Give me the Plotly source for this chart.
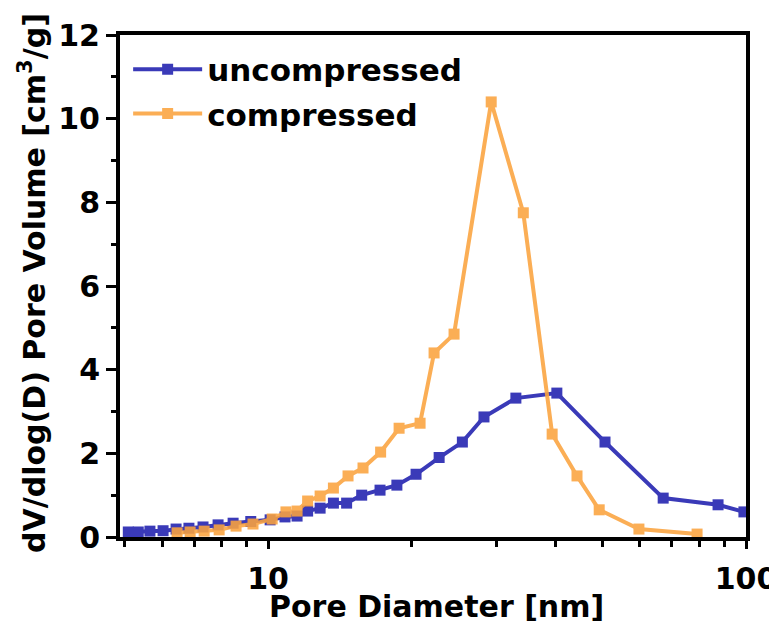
import plotly.graph_objects as go
import math

# Uncompressed
unc_d = [5.10, 5.35, 5.66, 6.03, 6.42, 6.83, 7.31, 7.86, 8.45, 9.2, 10.1, 10.85, 11.5, 12.1, 12.85,
         13.7, 14.6, 15.7, 17.15, 18.6, 20.4, 22.8, 25.5, 28.3, 33.0, 40.2, 50.7, 67.1, 87.4, 99.0]
unc_v = [0.12, 0.12, 0.14, 0.15, 0.19, 0.21, 0.24, 0.29, 0.33, 0.37, 0.41, 0.48, 0.50, 0.62, 0.69,
         0.81, 0.81, 1.00, 1.12, 1.24, 1.50, 1.90, 2.27, 2.87, 3.32, 3.44, 2.27, 0.93, 0.77, 0.60]

# Compressed
com_d = [6.45, 6.87, 7.35, 7.9, 8.57, 9.3, 10.2, 10.9, 11.5, 12.1, 12.85, 13.7, 14.7, 15.8, 17.2,
         18.8, 20.8, 22.25, 24.5, 29.3, 34.2, 39.3, 44.3, 49.3, 59.7, 79.0]
com_v = [0.10, 0.12, 0.14, 0.17, 0.26, 0.31, 0.43, 0.60, 0.62, 0.86, 0.98, 1.17, 1.46, 1.65, 2.03,
         2.60, 2.72, 4.40, 4.85, 10.40, 7.75, 2.46, 1.46, 0.65, 0.19, 0.07]

x_major = [10, 100]
x_major_labels = ["10", "100"]
x_minor = [5, 6, 7, 8, 9, 20, 30, 40, 50, 60, 70, 80, 90]
y_major = [0, 2, 4, 6, 8, 10, 12]
y_minor = [1, 3, 5, 7, 9, 11]

BLUE = "#3A3AB8"
ORANGE = "#FBA33E"
FONT = "DejaVu Sans, Arial, sans-serif"

fig = go.Figure()
fig.add_trace(go.Scatter(x=unc_d, y=unc_v, name="uncompressed", mode="lines+markers",
                         legendgroup="a",
                         line=dict(color=BLUE, width=4),
                         marker=dict(symbol="square", size=11, color=BLUE)))
fig.add_trace(go.Scatter(x=com_d, y=com_v, name="compressed", mode="lines+markers",
                         legendgroup="b",
                         line=dict(color=ORANGE, width=4),
                         marker=dict(symbol="square", size=11, color=ORANGE),
                         opacity=0.88))

# The page body adds an 8px offset at left/top, so the figure is 8px smaller.
fig.update_layout(
    width=769, height=622,
    margin=dict(l=112, r=31, t=27, b=93, autoexpand=False),
    paper_bgcolor="white", plot_bgcolor="white",
    font=dict(family=FONT, color="black", size=30),
    showlegend=True,
    legend=dict(x=0.013, y=0.985, xanchor="left", yanchor="top",
                bgcolor="rgba(0,0,0,0)", itemwidth=69,
                font=dict(size=31, family=FONT, weight="bold"),
                tracegroupgap=1),
    annotations=[
        dict(text="<b>Pore Diameter [nm]</b>", xref="paper", yref="paper",
             x=0.506, y=-0.139, xanchor="center", yanchor="middle", showarrow=False,
             font=dict(size=30, family=FONT)),
        dict(text="<b>dV/dlog(D) Pore Volume [cm<sup>3</sup>/g]</b>", xref="paper", yref="paper",
             x=-0.139, y=0.506, xanchor="center", yanchor="middle", showarrow=False,
             textangle=-90, font=dict(size=30, family=FONT)),
    ],
)
fig.update_xaxes(
    type="log", range=[math.log10(4.9), 2], automargin=False,
    tickvals=x_major, ticktext=["<b>%s</b>" % t for t in x_major_labels],
    ticklabeloverflow="allow", ticklabelstandoff=4,
    ticks="outside", ticklen=8, tickwidth=3, tickcolor="black",
    minor=dict(tickvals=x_minor, ticks="outside", ticklen=6, tickwidth=3, tickcolor="black"),
    showline=True, linewidth=4, linecolor="black", mirror=True,
    showgrid=False, zeroline=False,
    tickfont=dict(size=30, family=FONT),
)
fig.update_yaxes(
    range=[0, 12], automargin=False,
    tickvals=y_major, ticktext=["<b>%d</b>" % v for v in y_major],
    ticklabeloverflow="allow",
    ticks="outside", ticklen=10, tickwidth=3, tickcolor="black",
    minor=dict(tickvals=y_minor, ticks="outside", ticklen=5, tickwidth=3, tickcolor="black"),
    showline=True, linewidth=4, linecolor="black", mirror=True,
    showgrid=False, zeroline=False,
    tickfont=dict(size=30, family=FONT),
)

fig.write_html("out.html")
